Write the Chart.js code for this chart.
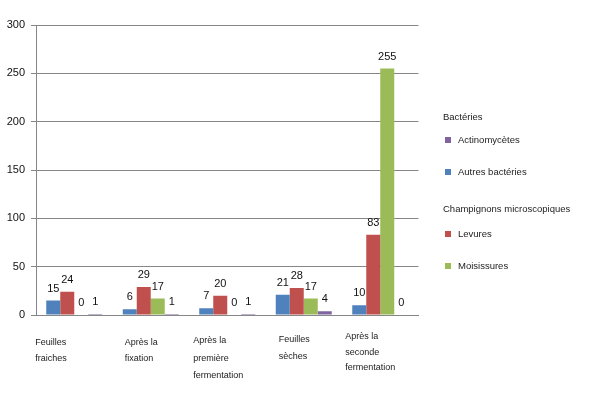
<!DOCTYPE html>
<html>
<head>
<meta charset="utf-8">
<script src="https://cdn.jsdelivr.net/npm/chart.js@4/dist/chart.umd.min.js"></script>
<style>
  html, body { margin: 0; padding: 0; background: #fff; }
  #wrap { position: relative; width: 603px; height: 397px; }
  #legend { position: absolute; left: 0; top: 0; width: 603px; height: 397px; pointer-events: none;
            font-family: "Liberation Sans", Arial, sans-serif; font-size: 9.5px; color: #222; }
  #legend div { position: absolute; white-space: nowrap; line-height: 12px; }
  #legend span.sq { position: absolute; width: 6px; height: 6px; }
</style>
</head>
<body>
<div id="wrap">
  <canvas id="c" width="603" height="397"></canvas>
  <div id="legend"></div>
</div>
<script>
// ---- data ----
const categories = [
  ["Feuilles", "fraiches"],
  ["Après la", "fixation"],
  ["Après la", "première", "fermentation"],
  ["Feuilles", "sèches"],
  ["Après la", "seconde", "fermentation"]
];
const autresBacteries = [15, 6, 7, 21, 10];
const levures = [24, 29, 20, 28, 83];
const moisissures = [0, 17, 0, 17, 255];
const actinomycetes = [1, 1, 1, 4, 0];
const yTicks = [0, 50, 100, 150, 200, 250, 300];

const legendGroups = [
  { title: "Bactéries", items: [["Actinomycètes", "#8064A2"], ["Autres bactéries", "#4F81BD"]] },
  { title: "Champignons microscopiques", items: [["Levures", "#C0504D"], ["Moisissures", "#9BBB59"]] }
];

// ---- layout of category labels (offset from category centre, first line y, line step) ----
const catLayout = [
  { dx: -39, y: 343, step: 16 },
  { dx: -26, y: 343, step: 16 },
  { dx: -34, y: 341, step: 17.5 },
  { dx: -25, y: 340, step: 17 },
  { dx: -35, y: 337, step: 15.5 }
];

const FONT = '"Liberation Sans", Arial, sans-serif';

const valueLabels = {
  id: 'valueLabels',
  afterDatasetsDraw(chart) {
    const ctx = chart.ctx;
    ctx.save();
    ctx.font = '11px ' + FONT;
    ctx.fillStyle = '#111';
    ctx.textAlign = 'center';
    ctx.textBaseline = 'middle';
    chart.data.datasets.forEach((ds, di) => {
      const meta = chart.getDatasetMeta(di);
      meta.data.forEach((el, i) => {
        ctx.fillText(String(ds.data[i]), el.x, el.y - 12);
      });
    });
    ctx.restore();
  }
};

const catLabels = {
  id: 'catLabels',
  afterDraw(chart) {
    const ctx = chart.ctx;
    const xs = chart.scales.x;
    ctx.save();
    ctx.font = '9px ' + FONT;
    ctx.fillStyle = '#1a1a1a';
    ctx.textAlign = 'left';
    ctx.textBaseline = 'middle';
    categories.forEach((lines, i) => {
      const L = catLayout[i];
      const x = xs.getPixelForValue(i) + L.dx;
      lines.forEach((t, j) => ctx.fillText(t, x, L.y + j * L.step));
    });
    ctx.restore();
  }
};

new Chart(document.getElementById('c'), {
  type: 'bar',
  data: {
    labels: categories.map(c => c.join(' ')),
    datasets: [
      { label: 'Autres bactéries', data: autresBacteries, backgroundColor: '#4F81BD' },
      { label: 'Levures', data: levures, backgroundColor: '#C0504D' },
      { label: 'Moisissures', data: moisissures, backgroundColor: '#9BBB59' },
      { label: 'Actinomycètes', data: actinomycetes, backgroundColor: '#8064A2' }
    ]
  },
  options: {
    responsive: false,
    animation: false,
    layout: { padding: { top: 25, right: 184.5, left: 0, bottom: 0 } },
    plugins: { legend: { display: false }, tooltip: { enabled: false } },
    datasets: { bar: { categoryPercentage: 0.732, barPercentage: 1.0 } },
    scales: {
      x: {
        grid: { display: false },
        border: { display: true, color: '#868686', width: 1 },
        ticks: { display: false },
        afterFit(s) { s.height = 82; }
      },
      y: {
        min: 0, max: 300,
        afterBuildTicks(s) { s.ticks = yTicks.map(v => ({ value: v })); },
        grid: { color: '#868686', lineWidth: 1, tickLength: 5 },
        border: { display: true, color: '#868686', width: 1 },
        ticks: { font: { family: FONT, size: 11 }, color: '#111', padding: 6 },
        afterFit(s) { s.width = 36; }
      }
    }
  },
  plugins: [valueLabels, catLabels]
});

// ---- HTML legend ----
const leg = document.getElementById('legend');
const rows = [
  { kind: 'title', y: 117 }, { kind: 'item', y: 140 }, { kind: 'item', y: 172 },
  { kind: 'title', y: 209 }, { kind: 'item', y: 234 }, { kind: 'item', y: 266 }
];
let r = 0;
legendGroups.forEach(g => {
  const t = document.createElement('div');
  t.textContent = g.title;
  t.style.left = '443px'; t.style.top = (rows[r++].y - 6) + 'px';
  leg.appendChild(t);
  g.items.forEach(([name, col]) => {
    const y = rows[r++].y;
    const sq = document.createElement('span');
    sq.className = 'sq'; sq.style.background = col;
    sq.style.left = '445px'; sq.style.top = (y - 3) + 'px';
    leg.appendChild(sq);
    const d = document.createElement('div');
    d.textContent = name;
    d.style.left = '458px'; d.style.top = (y - 6) + 'px';
    leg.appendChild(d);
  });
});
</script>
</body>
</html>
